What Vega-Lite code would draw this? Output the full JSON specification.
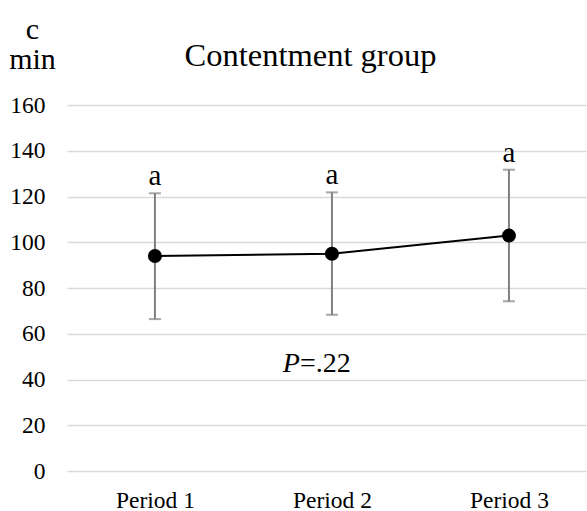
{
  "$schema": "https://vega.github.io/schema/vega-lite/v6.json",
  "width": 519,
  "height": 366,
  "autosize": {"type": "none"},
  "padding": {"left": 67, "top": 105, "right": 1, "bottom": 40},
  "background": "white",
  "config": {
    "view": {"stroke": null},
    "font": "Liberation Serif",
    "text": {"font": "Liberation Serif"}
  },
  "datasets": {
    "periods": [
      {"period": "Period 1", "mean": 94.0, "lower": 66.4, "upper": 121.4, "letter": "a"},
      {"period": "Period 2", "mean": 95.0, "lower": 68.3, "upper": 121.8, "letter": "a"},
      {"period": "Period 3", "mean": 102.9, "lower": 74.2, "upper": 131.7, "letter": "a"}
    ],
    "note": [
      {"period": "Period 2", "value": 43.4, "stat": "P", "result": "=.22"}
    ]
  },
  "encoding": {
    "x": {
      "field": "period",
      "type": "nominal",
      "sort": ["Period 1", "Period 2", "Period 3"],
      "scale": {"type": "point", "padding": 0.466, "align": 0.533},
      "axis": {
        "title": "Contentment group",
        "titleFont": "Liberation Serif",
        "titleFontSize": 32.5,
        "titleFontWeight": "normal",
        "titleColor": "#000000",
        "titleX": 243,
        "titleY": -406,
        "titleAlign": "center",
        "titleBaseline": "alphabetic",
        "labelAngle": 0,
        "labelFont": "Liberation Serif",
        "labelFontSize": 23.5,
        "labelColor": "#000000",
        "labelBaseline": "alphabetic",
        "labelPadding": 36,
        "ticks": false,
        "tickSize": 0,
        "domain": false,
        "grid": false
      }
    }
  },
  "layer": [
    {
      "data": {"name": "periods"},
      "mark": {"type": "rule", "color": "#808080", "strokeWidth": 2},
      "encoding": {
        "y": {
          "field": "lower",
          "type": "quantitative",
          "scale": {"domain": [0, 160], "nice": false},
          "axis": {
            "values": [0, 20, 40, 60, 80, 100, 120, 140, 160],
            "title": ["c", "min"],
            "titleFont": "Liberation Serif",
            "titleFontSize": 30,
            "titleFontWeight": "normal",
            "titleColor": "#000000",
            "titleLineHeight": 30,
            "titleAngle": 0,
            "titleAlign": "center",
            "titleBaseline": "alphabetic",
            "titleX": -35,
            "titleY": -67,
            "labelFont": "Liberation Serif",
            "labelFontSize": 23.5,
            "labelColor": "#000000",
            "labelPadding": 22,
            "ticks": false,
            "tickSize": 0,
            "domain": false,
            "grid": true,
            "gridColor": "#d9d9d9",
            "gridWidth": 1.5
          }
        },
        "y2": {"field": "upper"}
      }
    },
    {
      "data": {"name": "periods"},
      "mark": {"type": "tick", "color": "#808080", "thickness": 2, "size": 12},
      "encoding": {"y": {"field": "lower", "type": "quantitative"}}
    },
    {
      "data": {"name": "periods"},
      "mark": {"type": "tick", "color": "#808080", "thickness": 2, "size": 12},
      "encoding": {"y": {"field": "upper", "type": "quantitative"}}
    },
    {
      "data": {"name": "periods"},
      "mark": {"type": "line", "color": "#000000", "strokeWidth": 2},
      "encoding": {"y": {"field": "mean", "type": "quantitative"}}
    },
    {
      "data": {"name": "periods"},
      "mark": {"type": "point", "filled": true, "shape": "circle", "color": "#000000", "opacity": 1, "size": 196},
      "encoding": {"y": {"field": "mean", "type": "quantitative"}}
    },
    {
      "data": {"name": "periods"},
      "mark": {"type": "text", "font": "Liberation Serif", "fontSize": 29, "color": "#000000", "baseline": "alphabetic", "align": "center", "dy": -8},
      "encoding": {
        "y": {"field": "upper", "type": "quantitative"},
        "text": {"field": "letter"}
      }
    },
    {
      "data": {"name": "note"},
      "mark": {"type": "text", "font": "Liberation Serif", "fontSize": 28, "fontStyle": "italic", "color": "#000000", "baseline": "alphabetic", "align": "right", "dx": -32},
      "encoding": {
        "y": {"field": "value", "type": "quantitative"},
        "text": {"field": "stat"}
      }
    },
    {
      "data": {"name": "note"},
      "mark": {"type": "text", "font": "Liberation Serif", "fontSize": 28, "color": "#000000", "baseline": "alphabetic", "align": "left", "dx": -32},
      "encoding": {
        "y": {"field": "value", "type": "quantitative"},
        "text": {"field": "result"}
      }
    }
  ]
}
